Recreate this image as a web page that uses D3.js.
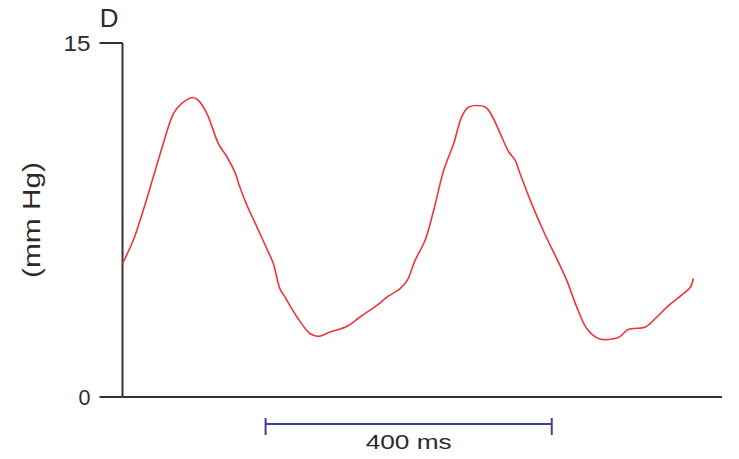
<!DOCTYPE html>
<html>
<head>
<meta charset="utf-8">
<script src="https://cdn.jsdelivr.net/npm/d3@7"></script>
<style>
  body { margin: 0; background: #fff; }
  svg text { font-family: "Liberation Sans", Arial, sans-serif; fill: #2b2b2b; }
</style>
</head>
<body>
<svg></svg>
<script>
const width = 739;
const height = 459;

// time (ms) and pressure (mm Hg)
const timeMs = [0, 15, 29, 43, 57, 69, 76, 90, 99, 106, 118, 134, 146, 157, 164, 174, 188, 206, 211, 220, 227,
    244, 262, 274, 290, 314, 332, 356, 370, 388, 398, 409, 423, 435, 449, 463, 474, 484, 507, 516, 528, 540,
    549, 554, 570, 589, 607, 621, 635, 649, 666, 693, 707, 731, 747, 761, 784, 794, 798];
const pressure = [5.65, 6.64, 7.91, 9.32, 10.74, 11.86, 12.22, 12.6, 12.69, 12.57, 12.01, 10.74, 10.17, 9.53, 8.9,
    8.12, 7.2, 6.0, 5.65, 4.59, 4.24, 3.39, 2.69, 2.57, 2.75, 3.0, 3.39, 3.89, 4.24, 4.59, 4.94, 5.79, 6.64, 7.91,
    9.61, 10.74, 11.86, 12.29, 12.29, 11.94, 11.16, 10.38, 10.03, 9.61, 8.33, 6.99, 5.86, 4.94, 3.81, 2.9, 2.47,
    2.52, 2.86, 2.97, 3.39, 3.81, 4.38, 4.66, 5.02];

const yTicks = [0, 15];
const scaleBar = [200, 600]; // ms
const scaleLabel = "400 ms";
const yLabel = "(mm Hg)";
const panelLabel = "D";

const margin = { left: 122.5, right: 17, top: 43, bottom: 62 };

const svg = d3.select("svg")
    .attr("width", width)
    .attr("height", height);

const x = d3.scaleLinear()
    .domain([0, 838])
    .range([margin.left, width - margin.right]);

const y = d3.scaleLinear()
    .domain([0, 15])
    .range([height - margin.bottom, margin.top]);

// ---------------- axes ----------------
const axisColor = "#333";

svg.append("line")
    .attr("x1", x(0)).attr("x2", x(838))
    .attr("y1", y(0)).attr("y2", y(0))
    .attr("stroke", axisColor).attr("stroke-width", 2);

svg.append("line")
    .attr("x1", x(0)).attr("x2", x(0))
    .attr("y1", y(0)).attr("y2", y(15))
    .attr("stroke", axisColor).attr("stroke-width", 2);

svg.append("g")
    .selectAll("line")
    .data(yTicks)
    .enter().append("line")
    .attr("x1", x(0) - 23).attr("x2", x(0))
    .attr("y1", d => y(d)).attr("y2", d => y(d))
    .attr("stroke", axisColor).attr("stroke-width", 2);

// glyphs in the source are a touch wider than Arial, so stretch them a little
svg.append("g")
    .selectAll("text")
    .data(yTicks)
    .enter().append("text")
    .attr("x", x(0) - 32)
    .attr("y", d => y(d))
    .attr("dy", "0.36em")
    .attr("text-anchor", "end")
    .attr("textLength", d => String(d).length === 2 ? 27 : 12)
    .attr("lengthAdjust", "spacingAndGlyphs")
    .style("font-size", "22px")
    .text(d => d);

svg.append("text")
    .attr("x", x(0) - 4)
    .attr("y", 27)
    .attr("text-anchor", "end")
    .style("font-size", "26px")
    .text(panelLabel);

svg.append("text")
    .attr("transform", `translate(40, ${(y(0) + y(15)) / 2}) rotate(-90)`)
    .attr("text-anchor", "middle")
    .attr("textLength", 116)
    .attr("lengthAdjust", "spacingAndGlyphs")
    .style("font-size", "23px")
    .text(yLabel);

// ---------------- trace ----------------
const trace = timeMs.map((t, i) => ({ t: t, p: pressure[i] }));

const line = d3.line()
    .x(d => x(d.t))
    .y(d => y(d.p))
    .curve(d3.curveCatmullRom.alpha(0.5));

svg.append("path")
    .datum(trace)
    .attr("d", line)
    .attr("fill", "none")
    .attr("stroke", "#f0353a")
    .attr("stroke-width", 1.6);

// ---------------- scale bar ----------------
const barY = 424;
const barColor = "#3b3f9e";

svg.append("line")
    .attr("x1", x(scaleBar[0])).attr("x2", x(scaleBar[1]))
    .attr("y1", barY).attr("y2", barY)
    .attr("stroke", barColor).attr("stroke-width", 2);

svg.append("g")
    .selectAll("line")
    .data(scaleBar)
    .enter().append("line")
    .attr("x1", d => x(d)).attr("x2", d => x(d))
    .attr("y1", barY - 6).attr("y2", barY + 11)
    .attr("stroke", barColor).attr("stroke-width", 2);

svg.append("text")
    .attr("x", (x(scaleBar[0]) + x(scaleBar[1])) / 2)
    .attr("y", 449)
    .attr("text-anchor", "middle")
    .attr("textLength", 86)
    .attr("lengthAdjust", "spacingAndGlyphs")
    .style("font-size", "21px")
    .text(scaleLabel);
</script>
</body>
</html>
